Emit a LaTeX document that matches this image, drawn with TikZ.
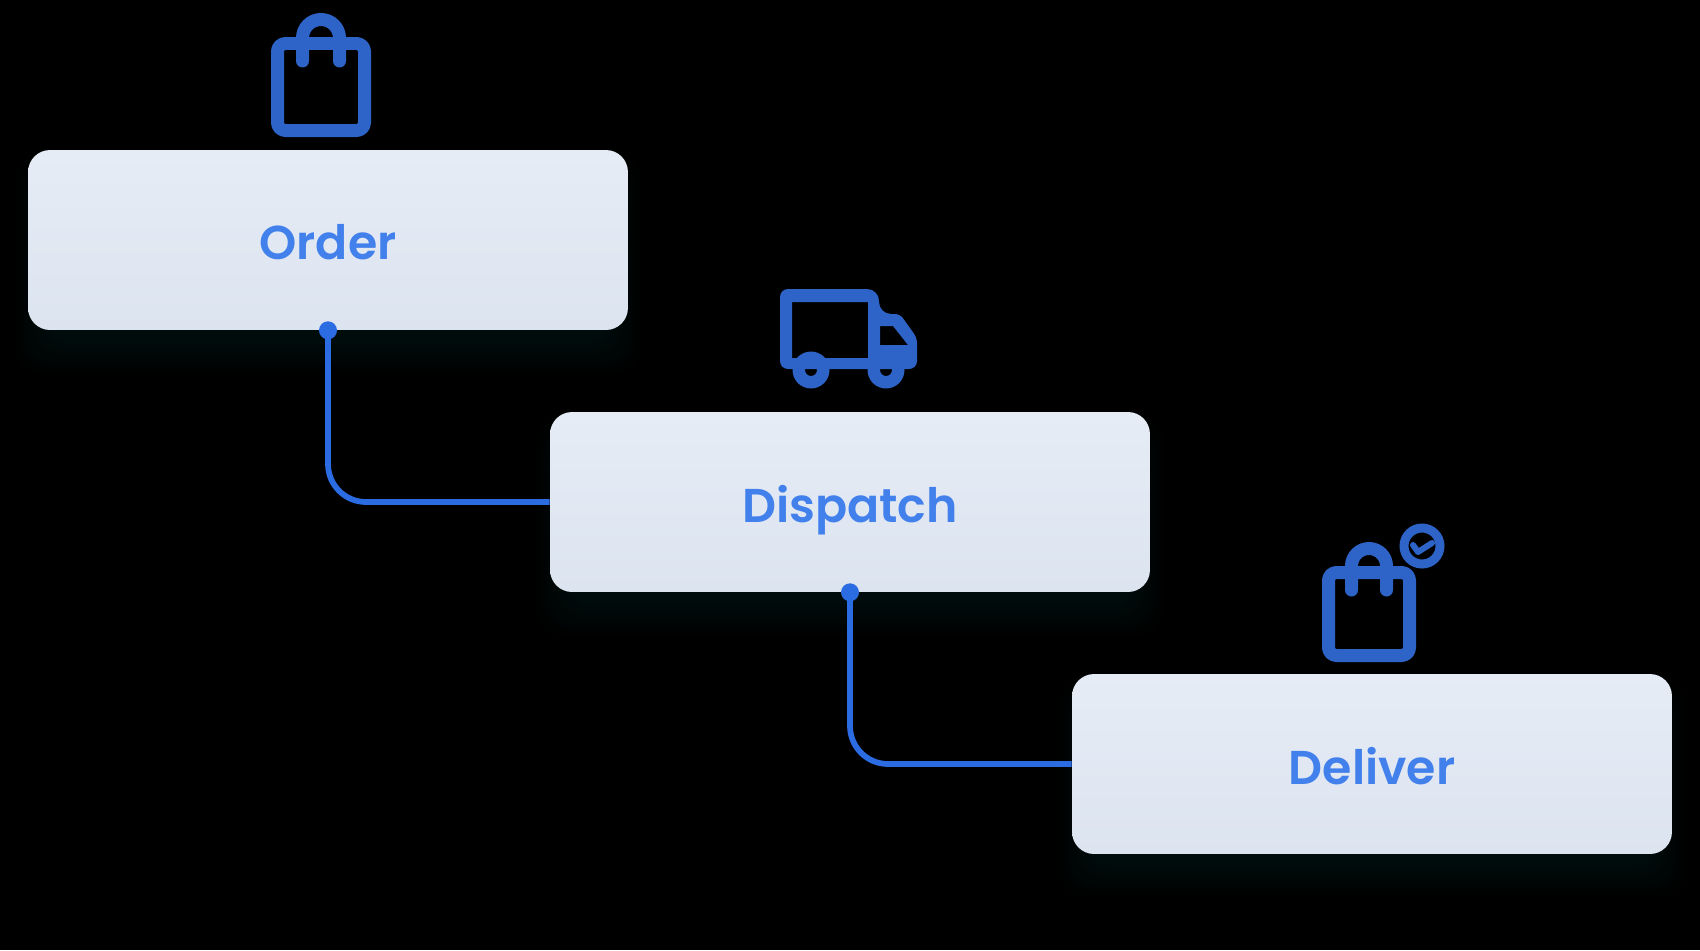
\documentclass[tikz,border=0pt]{standalone}
\usepackage{fontspec}
\newfontfamily\labelfont{Poppins SemiBold}
\definecolor{iconblue}{RGB}{46, 100, 200}
\definecolor{lineblue}{RGB}{44, 108, 226}
\definecolor{textblue}{RGB}{66, 128, 236}
\definecolor{boxtop}{RGB}{230, 236, 245}
\definecolor{boxbot}{RGB}{220, 228, 240}
\definecolor{glowblue}{RGB}{80, 140, 190}
\usetikzlibrary{positioning, calc}
\tikzset{
  stagebox/.style={rounded corners=0.44cm, minimum width=12cm, minimum height=3.6cm, inner sep=0pt,
    top color=boxtop, bottom color=boxbot, text=textblue, font=\labelfont\fontsize{27}{27}\selectfont,
    text height=0.9cm, text depth=0.1cm},
  link/.style={line width=0.115cm, lineblue, rounded corners=0.76cm},
  linkdot/.style={circle, fill=lineblue, inner sep=0pt, minimum size=0.36cm},
  iconline/.style={line width=0.26cm, iconblue, line cap=round, line join=round},
}
\begin{document}
\begin{tikzpicture}[x=0.02cm, y=-0.02cm]
      \fill[black] (0,0) rectangle (1700,950);
      \useasboundingbox (0,0) rectangle (1700,950);
      % glow under the boxes
      \foreach \cx/\cy in {328/240, 850/502, 1372/764} {
        \foreach \g in {0,3,...,33} {
          \fill[glowblue, opacity=0.007, rounded corners=0.5cm]
            ($(\cx,\cy+18)+(-300-\g+20,-90-\g+20)$) rectangle ($(\cx,\cy+18)+(300+\g-20,90+\g-8)$);
        }
      }
      \node[stagebox] (order) at (328,240) {Order};
      \node[stagebox] (dispatch) at (850,502) {Dispatch};
      \node[stagebox] (deliver) at (1372,764) {Deliver};
      \node[linkdot] (orderdot) at (order.south) {};
      \node[linkdot] (dispatchdot) at (dispatch.south) {};
      \draw[link] (orderdot.center) |- (dispatch.west);
      \draw[link] (dispatchdot.center) |- (deliver.west);
      % order bag
      \draw[iconline, rounded corners=0.16cm] (277.5,43.5) rectangle (364.5,130.5);
      \draw[iconline] (302.5,61) -- (302.5,38) arc[start angle=180, end angle=360, radius=18.5] -- (339.5,61);
      % truck
      \fill[iconblue, even odd rule]
        [rounded corners=0.24cm] (780,289) -- (879,289) -- (879,314) [rounded corners=0.1cm] -- (900,314) -- (917,338)
        [rounded corners=0.16cm] -- (917,369) -- (780,369) -- cycle
        [sharp corners] (792,302) rectangle (868,358)
        (880,326) -- (893,326) -- (908,345) -- (880,345) -- cycle;
      \foreach \wx in {811, 886} {
        \fill[iconblue, even odd rule] (\wx,370) circle[radius=18.5] (\wx,370) circle[radius=6];
      }
      % deliver bag
      \draw[iconline, rounded corners=0.16cm] (1328.5,572.5) rectangle (1409.5,655.5);
      \draw[iconline] (1351.5,590) -- (1351.5,566) arc[start angle=180, end angle=360, radius=17.5] -- (1386.5,590);
      \draw[iconblue, line width=0.18cm] (1422,546) circle[radius=18];
      \draw[iconblue, line width=0.12cm, line cap=round, line join=round] (1413,545) -- (1418,552) -- (1432,543);
    \end{tikzpicture}
\end{document}
